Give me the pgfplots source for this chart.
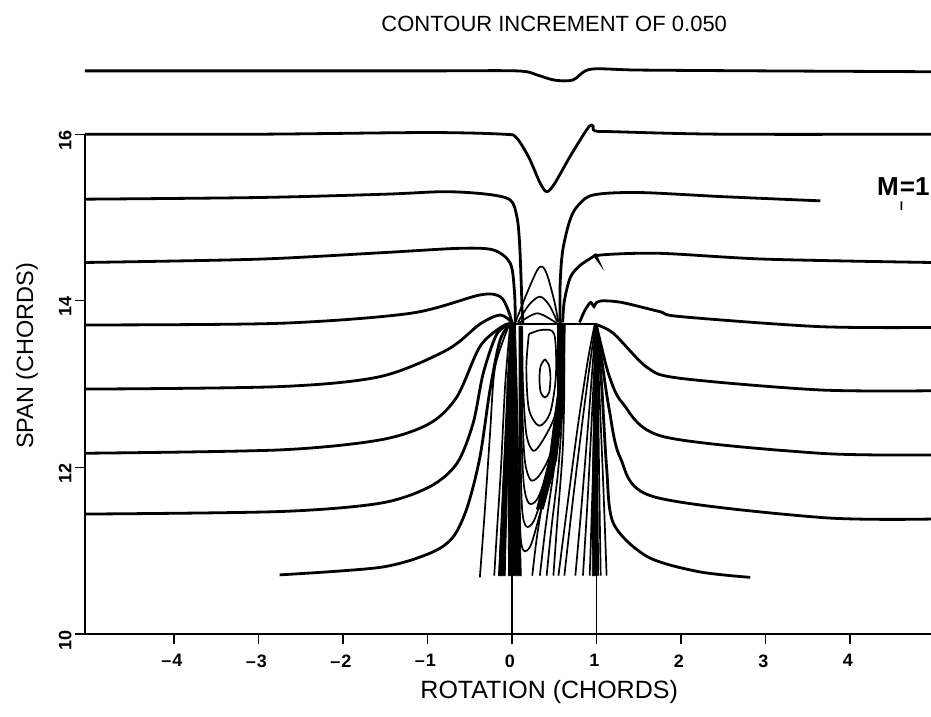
\documentclass[border=0pt]{standalone}
\usepackage{fontspec}
\setmainfont{Liberation Sans}
\usepackage{pgfplots}
\pgfplotsset{compat=1.18}
\pgfplotsset{
  c/.style={black, line width=2.8pt, smooth, tension=0.5, no marks},
  f/.style={black, line width=1.7pt, smooth, tension=0.5, no marks},
  band/.style={black, fill=black, line width=0.8pt, no marks},
}
\begin{document}
\begin{tikzpicture}
\begin{axis}[
  at={(0pt,0pt)}, anchor=south west,
  scale only axis, width=846pt, height=570.6pt,
  xmin=-5.053, xmax=4.959, ymin=10, ymax=16.85,
  axis line style={draw=none},
  clip=false,
  tick pos=left,
  tick align=outside,
  major tick length=10pt,
  tick style={black, line width=1.2pt},
  xtick={-4,-3,-2,-1,0,1,2,3,4},
  xticklabels={\textendash\kern1pt4,\textendash\kern1pt3,\textendash\kern1pt2,\textendash\kern1pt1,0,1,2,3,4},
  ytick={10,12,14,16},
  yticklabels={10,12,14,16},
  ticklabel style={font=\fontsize{18}{18}\selectfont\bfseries},
  xticklabel style={yshift=-7pt, xshift=-2pt},
  yticklabel style={rotate=90, anchor=south, xshift=-6pt},
]
% axis lines
\addplot[black, line width=2.4pt] coordinates {(-5.053,10) (4.959,10)};
\addplot[black, line width=2.4pt] coordinates {(-5.053,10) (-5.053,16)};
% vertical reference lines at 0 and 1
\addplot[black, line width=1.3pt] coordinates {(0.0,10.72) (0.0,9.93)};
\addplot[black, line width=1.3pt] coordinates {(1.0,10.72) (1.0,9.93)};
% blade tip line
\addplot[black, line width=2pt] coordinates {(0.0,13.72) (1.0,13.72)};

% main contours
\addplot[c] coordinates {(-5.053,16.76) (-3,16.76) (-1,16.76) (0.06,16.76) (0.3,16.71) (0.5,16.65) (0.72,16.65) (0.93,16.78) (1.5,16.77) (3,16.76) (4.959,16.75)};
\addplot[c] coordinates {(-5.053,16.0) (-3,16.0) (-1,16.02) (-0.1,16.0) (0.05,15.96) (0.2,15.72) (0.33,15.42) (0.41,15.31) (0.5,15.4) (0.68,15.72) (0.85,16.0) (0.92,16.1) (0.96,16.1) (0.98,16.04) (1.2,16.03) (2.5,16.0) (4.959,16.0)};
\addplot[c] coordinates {(-5.053,15.22) (-3,15.24) (-1.5,15.28) (-0.8,15.31) (-0.3,15.28) (-0.02,15.21) (0.06,15.0) (0.09,14.69) (0.11,14.2) (0.12,13.89) (0.13,13.73)};
\addplot[c] coordinates {(0.57,13.73) (0.57,14.2) (0.6,14.6) (0.68,14.95) (0.77,15.13) (0.96,15.27) (1.5,15.3) (2.5,15.25) (3.65,15.2)};
\addplot[c] coordinates {(-5.053,14.46) (-3,14.5) (-1.5,14.58) (-0.62,14.63) (-0.22,14.61) (-0.02,14.45) (0.03,14.1) (0.04,13.74)};
\addplot[c] coordinates {(0.6,13.74) (0.62,14.0) (0.69,14.28) (0.8,14.42) (0.96,14.53) (0.99,14.55) (1.01,14.5) (1.05,14.55) (1.75,14.57) (3,14.5) (4.959,14.46)};
\addplot[c] coordinates {(-5.053,13.71) (-2.75,13.73) (-1.2,13.85) (-0.38,14.07) (-0.14,14.05) (-0.05,13.9) (0.0,13.74)};
\addplot[c] coordinates {(0.8,13.74) (0.86,13.88) (0.93,13.98) (0.97,13.93) (1.0,13.98) (1.08,14.0) (1.3,13.98) (1.75,13.87) (2.0,13.81) (3.64,13.69) (4.959,13.68)};
\addplot[c] coordinates {(-5.053,12.94) (-2.75,12.97) (-1.56,13.09) (-0.77,13.41) (-0.38,13.72) (-0.14,13.83) (0.0,13.74)};
\addplot[c] coordinates {(0.98,13.72) (1.2,13.61) (1.6,13.2) (1.99,13.07) (3.64,12.93) (4.959,12.92)};
\addplot[c] coordinates {(-5.053,12.17) (-2.75,12.21) (-1.56,12.33) (-0.97,12.53) (-0.65,12.85) (-0.38,13.45) (-0.12,13.69) (0.0,13.73)};
\addplot[c] coordinates {(1.0,13.7) (1.04,13.53) (1.15,13.1) (1.31,12.77) (1.79,12.37) (3.64,12.17) (4.959,12.15)};
\addplot[c] coordinates {(-5.053,11.44) (-2.75,11.47) (-1.56,11.57) (-0.97,11.77) (-0.65,12.05) (-0.46,12.53) (-0.34,13.13) (-0.18,13.6) (-0.02,13.72)};
\addplot[c] coordinates {(1.0,13.68) (1.06,13.3) (1.15,12.7) (1.28,12.12) (1.67,11.65) (3.64,11.4) (4.959,11.38)};
\addplot[c] coordinates {(-2.75,10.71) (-1.56,10.8) (-0.97,10.97) (-0.7,11.16) (-0.53,11.52) (-0.38,12.12) (-0.26,12.93) (-0.14,13.53) (-0.02,13.72)};
\addplot[c] coordinates {(1.0,13.66) (1.06,13.0) (1.12,12.0) (1.2,11.33) (1.6,10.93) (2.2,10.75) (2.82,10.68)};

% left tip fan
\addplot[f] coordinates {(-0.03,13.72) (-0.2,13.2) (-0.26,12.4) (-0.32,11.5) (-0.38,10.68)};
\addplot[f] coordinates {(-0.02,13.72) (-0.08,13.0) (-0.13,12.0) (-0.18,11.2) (-0.21,10.7)};
\addplot[f] coordinates {(-0.01,13.72) (-0.06,12.8) (-0.1,11.8) (-0.13,10.7)};
\addplot[band] coordinates {(-0.01,13.72) (-0.1,12.0) (-0.16,10.7) (-0.08,10.7) (-0.05,12.0) (0.0,13.72)} --cycle;
\addplot[band] coordinates {(0.0,13.74) (-0.06,13.0) (-0.05,12.0) (-0.04,10.7) (0.11,10.7) (0.08,12.0) (0.06,13.0) (0.04,13.74)} --cycle;

% domes above blade
\addplot[f] coordinates {(0.04,13.74) (0.18,14.1) (0.3,14.37) (0.36,14.41) (0.42,14.3) (0.5,14.0) (0.55,13.74)};
\addplot[f] coordinates {(0.07,13.74) (0.2,13.95) (0.33,14.05) (0.44,13.95) (0.54,13.74)};
\addplot[f] coordinates {(0.08,13.73) (0.3,13.85) (0.53,13.73)};

% vortex loops
\addplot[f] coordinates {(0.39,13.3) (0.44,13.22) (0.455,13.07) (0.44,12.9) (0.39,12.84) (0.34,12.9) (0.325,13.07) (0.34,13.22) (0.39,13.3)};
\addplot[f] coordinates {(0.2,13.6) (0.17,13.2) (0.2,12.7) (0.32,12.5) (0.45,12.65) (0.52,13.1) (0.5,13.6) (0.35,13.65) (0.2,13.6)};
\addplot[f] coordinates {(0.12,13.7) (0.13,13.0) (0.17,12.4) (0.25,12.2) (0.35,12.3) (0.5,12.6) (0.56,13.0) (0.57,13.7)};
\addplot[f] coordinates {(0.11,13.7) (0.12,12.8) (0.15,12.1) (0.22,11.85) (0.32,11.9) (0.45,12.15) (0.55,12.6) (0.58,13.7)};
\addplot[f] coordinates {(0.1,13.7) (0.11,12.5) (0.14,11.8) (0.2,11.57) (0.3,11.62) (0.42,11.95) (0.53,12.4) (0.58,13.0) (0.59,13.7)};
\addplot[f] coordinates {(0.1,13.7) (0.1,12.3) (0.12,11.5) (0.17,11.29) (0.26,11.36) (0.38,11.72) (0.5,12.2) (0.58,12.9) (0.6,13.7)};
\addplot[f] coordinates {(0.09,13.7) (0.09,12.0) (0.1,11.2) (0.14,11.0) (0.22,11.06) (0.32,11.4) (0.45,11.9) (0.55,12.4) (0.59,13.0) (0.6,13.7)};
\addplot[band] coordinates {(0.54,13.72) (0.54,12.9) (0.44,12.1) (0.29,11.5) (0.37,11.5) (0.53,12.1) (0.62,12.9) (0.63,13.72)} --cycle;

% middle fan lines
\addplot[f] coordinates {(0.24,10.7) (0.3,11.2) (0.4,11.8) (0.5,12.3) (0.56,12.9) (0.57,13.7)};
\addplot[f] coordinates {(0.33,10.7) (0.4,11.3) (0.5,12.0) (0.57,12.6) (0.59,13.7)};
\addplot[f] coordinates {(0.41,10.7) (0.47,11.3) (0.55,12.0) (0.6,12.8) (0.6,13.7)};
\addplot[f] coordinates {(0.49,10.7) (0.54,11.4) (0.6,12.2) (0.62,13.0) (0.61,13.7)};

% right tip fan
\addplot[f] coordinates {(0.55,10.7) (0.65,11.5) (0.78,12.5) (0.9,13.3) (0.98,13.72)};
\addplot[f] coordinates {(0.62,10.7) (0.72,11.6) (0.84,12.6) (0.93,13.3) (0.99,13.72)};
\addplot[f] coordinates {(0.75,10.7) (0.82,11.5) (0.9,12.5) (0.96,13.3) (0.99,13.72)};
\addplot[f] coordinates {(0.84,10.7) (0.9,11.7) (0.95,12.7) (1.0,13.72)};
\addplot[f] coordinates {(0.92,10.7) (0.96,12.0) (1.0,13.72)};
\addplot[f] coordinates {(1.02,10.7) (1.01,12.0) (1.0,13.72)};
\addplot[f] coordinates {(1.05,10.7) (1.03,12.0) (1.01,13.72)};
\addplot[f] coordinates {(1.12,10.7) (1.08,11.8) (1.03,13.0) (1.0,13.72)};
\addplot[band] coordinates {(0.98,13.72) (0.955,12.0) (0.95,10.7) (1.01,10.7) (1.005,12.0) (1.0,13.72)} --cycle;

% texts
\node[font=\fontsize{22}{22}\selectfont] at (axis cs:0.50,17.32) {CONTOUR INCREMENT OF 0.050};
\node[font=\fontsize{25}{25}\selectfont] at (axis cs:0.44,9.30) {ROTATION (CHORDS)};
\node[font=\fontsize{23.5}{23.5}\selectfont, rotate=90] at (axis cs:-5.74,13.34) {SPAN (CHORDS)};
\node[font=\fontsize{26}{26}\selectfont\bfseries, anchor=west, inner sep=0pt] at (axis cs:4.32,15.28) {M\kern1pt\rlap{\raisebox{-0.55em}{\fontsize{12}{12}\selectfont l}}=1};
\end{axis}
\pgfresetboundingbox
\useasboundingbox (-85pt,-82pt) rectangle (846pt,634pt);
\end{tikzpicture}
\end{document}
